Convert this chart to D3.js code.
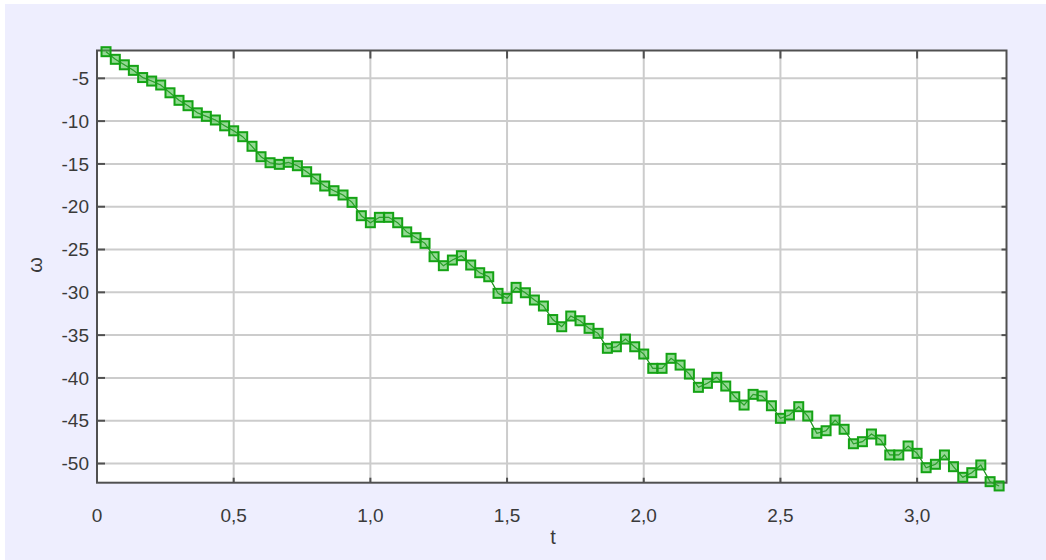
<!DOCTYPE html>
<html>
<head>
<meta charset="utf-8">
<script src="https://cdn.jsdelivr.net/npm/d3@7"></script>
<style>
  body { margin: 0; background: #ffffff; }
  svg { display: block; }
  text { font-family: "Liberation Sans", Arial, sans-serif; fill: #3a3a3a; }
</style>
</head>
<body>
<svg id="chart"></svg>
<script>
// data
var tVals = [0.033, 0.067, 0.100, 0.133, 0.167, 0.200, 0.233, 0.267, 0.300, 0.333,
  0.367, 0.400, 0.433, 0.467, 0.500, 0.533, 0.567, 0.600, 0.633, 0.667,
  0.700, 0.733, 0.767, 0.800, 0.833, 0.867, 0.900, 0.933, 0.967, 1.000,
  1.033, 1.067, 1.100, 1.133, 1.167, 1.200, 1.233, 1.267, 1.300, 1.333,
  1.367, 1.400, 1.433, 1.467, 1.500, 1.533, 1.567, 1.600, 1.633, 1.667,
  1.700, 1.733, 1.767, 1.800, 1.833, 1.867, 1.900, 1.933, 1.967, 2.000,
  2.033, 2.067, 2.100, 2.133, 2.167, 2.200, 2.233, 2.267, 2.300, 2.333,
  2.367, 2.400, 2.433, 2.467, 2.500, 2.533, 2.567, 2.600, 2.633, 2.667,
  2.700, 2.733, 2.767, 2.800, 2.833, 2.867, 2.900, 2.933, 2.967, 3.000,
  3.033, 3.067, 3.100, 3.133, 3.167, 3.200, 3.233, 3.267, 3.300]

var omega = [-1.89, -2.78, -3.42, -4.07, -4.91, -5.32, -5.78, -6.69, -7.57, -8.20,
  -9.03, -9.44, -9.87, -10.55, -11.13, -11.82, -12.94, -14.16, -14.86, -15.05,
  -14.81, -15.21, -15.91, -16.76, -17.58, -18.13, -18.63, -19.49, -21.05, -21.87,
  -21.24, -21.24, -21.87, -22.94, -23.62, -24.28, -25.84, -26.89, -26.23, -25.72,
  -26.81, -27.71, -28.18, -30.12, -30.70, -29.42, -30.05, -30.90, -31.60, -33.18,
  -34.02, -32.77, -33.32, -34.21, -34.79, -36.54, -36.36, -35.46, -36.36, -37.21,
  -38.88, -38.88, -37.71, -38.50, -39.55, -41.10, -40.63, -39.93, -40.95, -42.20,
  -43.17, -41.92, -42.11, -43.25, -44.72, -44.33, -43.36, -44.45, -46.47, -46.17,
  -44.92, -46.00, -47.69, -47.45, -46.55, -47.25, -49.00, -49.00, -47.95, -48.81,
  -50.49, -50.09, -49.00, -50.37, -51.61, -51.07, -50.17, -52.12, -52.62]

var xTicks = [0, 0.5, 1.0, 1.5, 2.0, 2.5, 3.0]
var yTicks = [-5, -10, -15, -20, -25, -30, -35, -40, -45, -50]

var width = 1046
var height = 560
var svg = d3.select("#chart")
  .attr("width", width)
  .attr("height", height)

// background
svg.append("rect")
  .attr("x", 5).attr("y", 4)
  .attr("width", width - 5).attr("height", height - 4)
  .attr("fill", "#eeeefe")

var pLeft = 97, pRight = 1006.5, pTop = 50.5, pBottom = 482.7

var x = d3.scaleLinear().domain([0, 3.327]).range([pLeft, pRight])
var y = d3.scaleLinear().domain([-52.24, -1.75]).range([pBottom, pTop])

svg.append("rect")
  .attr("x", pLeft).attr("y", pTop)
  .attr("width", pRight - pLeft).attr("height", pBottom - pTop)
  .attr("fill", "#ffffff")

// grid
svg.append("g")
  .selectAll("line")
  .data(xTicks.filter(d => d > 0))
  .enter()
  .append("line")
  .attr("x1", d => x(d)).attr("x2", d => x(d))
  .attr("y1", pTop).attr("y2", pBottom)
  .attr("stroke", "#cccccc")
  .attr("stroke-width", 2)

svg.append("g")
  .selectAll("line")
  .data(yTicks)
  .enter()
  .append("line")
  .attr("x1", pLeft).attr("x2", pRight)
  .attr("y1", d => y(d)).attr("y2", d => y(d))
  .attr("stroke", "#cccccc")
  .attr("stroke-width", 2)

// frame
svg.append("rect")
  .attr("x", pLeft).attr("y", pTop)
  .attr("width", pRight - pLeft).attr("height", pBottom - pTop)
  .attr("fill", "none")
  .attr("stroke", "#505050")
  .attr("stroke-width", 2)

// inner ticks
var tk = svg.append("g").attr("stroke", "#505050").attr("stroke-width", 2)
tk.selectAll(".yl").data(yTicks).enter().append("line")
  .attr("x1", pLeft).attr("x2", pLeft + 8)
  .attr("y1", d => y(d)).attr("y2", d => y(d))
tk.selectAll(".yr").data(yTicks).enter().append("line")
  .attr("x1", pRight - 5).attr("x2", pRight)
  .attr("y1", d => y(d)).attr("y2", d => y(d))
tk.selectAll(".xt").data(xTicks).enter().append("line")
  .attr("x1", d => x(d)).attr("x2", d => x(d))
  .attr("y1", pTop).attr("y2", pTop + 8)
tk.selectAll(".xb").data(xTicks).enter().append("line")
  .attr("x1", d => x(d)).attr("x2", d => x(d))
  .attr("y1", pBottom - 5).attr("y2", pBottom)

// labels
var fmt = d => d === 0 ? "0" : d3.format(".1f")(d).replace(".", ",")

svg.append("g")
  .selectAll("text")
  .data(yTicks)
  .enter()
  .append("text")
  .attr("x", 89)
  .attr("y", d => y(d))
  .attr("dy", "0.35em")
  .attr("text-anchor", "end")
  .style("font-size", "19px")
  .text(d => d)

svg.append("g")
  .selectAll("text")
  .data(xTicks)
  .enter()
  .append("text")
  .attr("x", d => x(d))
  .attr("y", 515)
  .attr("dy", "0.35em")
  .attr("text-anchor", "middle")
  .style("font-size", "19px")
  .text(fmt)

svg.append("text")
  .attr("x", 553).attr("y", 537)
  .attr("dy", "0.35em")
  .attr("text-anchor", "middle")
  .style("font-size", "20px")
  .text("t")

svg.append("text")
  .attr("transform", "translate(35,265) rotate(-90)")
  .attr("dy", "0.35em")
  .attr("text-anchor", "middle")
  .style("font-size", "20px")
  .text("ω")

// series
var pts = tVals.map((t, i) => ({t: t, w: omega[i]}))

svg.append("path")
  .datum(pts)
  .attr("fill", "none")
  .attr("stroke", "#1f9a1f")
  .attr("stroke-width", 1.2)
  .attr("d", d3.line().x(d => x(d.t)).y(d => y(d.w)))

svg.append("g")
  .selectAll("rect")
  .data(pts)
  .enter()
  .append("rect")
  .attr("x", d => x(d.t) - 4.5)
  .attr("y", d => y(d.w) - 4.5)
  .attr("width", 9)
  .attr("height", 9)
  .attr("fill", "#3cb93c")
  .attr("fill-opacity", 0.55)
  .attr("stroke", "#14a314")
  .attr("stroke-width", 2)

svg.append("path")
  .datum(pts)
  .attr("fill", "none")
  .attr("stroke", "#2a8f2a")
  .attr("stroke-opacity", 0.5)
  .attr("stroke-width", 1)
  .attr("d", d3.line().x(d => x(d.t)).y(d => y(d.w)))
</script>
</body>
</html>
